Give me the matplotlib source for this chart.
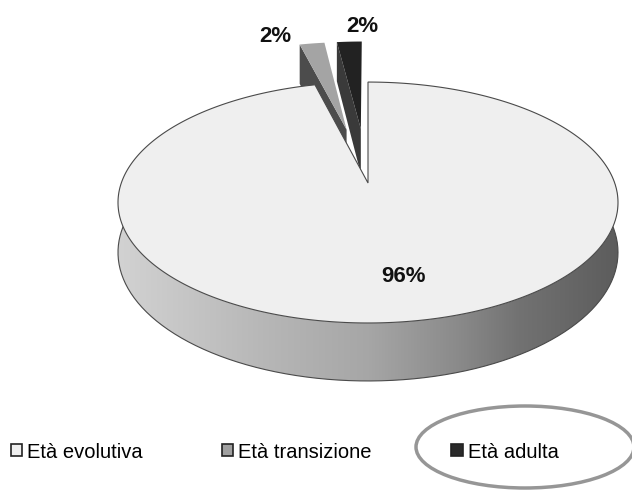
import numpy as np
import matplotlib
import matplotlib.pyplot as plt
from matplotlib.patches import Polygon, Patch, Ellipse
from matplotlib.colors import LinearSegmentedColormap

# data
categories = ["Età evolutiva", "Età transizione", "Età adulta"]
values = [96, 2, 2]
pct_labels = ["96%", "2%", "2%"]
explode = [0.0, 0.5, 0.5]
top_colors = ["#efefef", "#a4a4a4", "#222222"]
face_colors = ["#efefef", "#4c4c4c", "#3a3a3a"]
legend_colors = ["#efefef", "#a0a0a0", "#2a2a2a"]

# 3d look of the pie (pixel space)
CX, CY = 368, 183
RX, RY = 246.7, 117.3
PERSP = 0.162
DEPTH = 48.6


def proj(u, v, z=0.0):
    w = 1 + PERSP * np.asarray(v)
    return CX + RX * np.asarray(u) / w, CY - RY * np.asarray(v) / w + DEPTH * z / w


plt.rcParams['font.family'] = ['Liberation Sans', 'DejaVu Sans']
fig = plt.figure(figsize=(6.32, 4.9), dpi=100)
ax = fig.add_axes([0, 0, 1, 1])
ax.set_xlim(0, 632)
ax.set_ylim(490, 0)
ax.axis('off')

frac = np.array(values, dtype=float) / sum(values)
hi = 90 - 360 * np.concatenate([[0], np.cumsum(frac)[:-1]])
lo = hi - 360 * frac

# small exploded slices first (they sit behind the big one)
pulled = [i for i in range(len(values)) if explode[i] > 0]
for i in pulled[::-1]:
    m = np.radians((lo[i] + hi[i]) / 2)
    ou, ov = explode[i] * np.cos(m), explode[i] * np.sin(m)
    th = np.radians(np.linspace(lo[i], hi[i], 30))
    eu, ev = ou + np.cos(np.radians(hi[i])), ov + np.sin(np.radians(hi[i]))
    # radial side face on the left edge
    pts = [proj(ou, ov, 0), proj(eu, ev, 0), proj(eu, ev, 1), proj(ou, ov, 1)]
    ax.add_patch(Polygon(pts, closed=True, facecolor=face_colors[i],
                         edgecolor='none', zorder=1))
    xs, ys = proj(np.concatenate([[ou], ou + np.cos(th)]),
                  np.concatenate([[ov], ov + np.sin(th)]))
    ax.add_patch(Polygon(np.column_stack([xs, ys]), closed=True,
                         facecolor=top_colors[i], edgecolor='none', zorder=2))

# big slice: front side with gradient
th = np.radians(np.linspace(165, 375, 200))
tx, ty = proj(np.cos(th), np.sin(th), 0)
bx, by = proj(np.cos(th), np.sin(th), 1)
side = Polygon(np.column_stack([np.concatenate([tx, bx[::-1]]),
                                np.concatenate([ty, by[::-1]])]),
               closed=True, facecolor='none', edgecolor='none', zorder=3)
ax.add_patch(side)
side_cmap = LinearSegmentedColormap.from_list(
    'side', [(0, '#d2d2d2'), (0.3, '#b6b6b6'), (0.5, '#a6a6a6'),
             (0.68, '#8a8a8a'), (0.8, '#727272'), (1, '#5c5c5c')])
grad = np.linspace(0, 1, 256).reshape(1, -1)
im = ax.imshow(grad, cmap=side_cmap, extent=[118, 620, 400, 150],
               aspect='auto', zorder=3)
im.set_clip_path(side)
ax.plot(bx, by, color='#4a4a4a', lw=0.8, zorder=4)

# big slice top
th = np.radians(np.linspace(lo[0], hi[0], 400))
xs, ys = proj(np.concatenate([[0], np.cos(th)]), np.concatenate([[0], np.sin(th)]))
ax.add_patch(Polygon(np.column_stack([xs, ys]), closed=True,
                     facecolor=top_colors[0], edgecolor='#4a4a4a', lw=0.8, zorder=5))

# percentage labels
ax.text(403, 276, pct_labels[0], ha='center', va='center', fontsize=16,
        fontweight='bold', color='#111111', zorder=6)
ax.text(275, 36, pct_labels[1], ha='center', va='center', fontsize=16,
        fontweight='bold', color='#111111', zorder=6)
ax.text(362, 26, pct_labels[2], ha='center', va='center', fontsize=16,
        fontweight='bold', color='#111111', zorder=6)

# legend
handles = [Patch(facecolor=c, edgecolor='#222222', lw=1.2) for c in legend_colors]
ax.legend(handles, categories, ncol=3, loc='center left', frameon=False,
          bbox_to_anchor=(11 / 632, 1 - 452 / 490), fontsize=14.5,
          handlelength=0.55, handleheight=0.55, handletextpad=0.25,
          columnspacing=3.95, borderaxespad=0, borderpad=0)

ax.add_patch(Ellipse((525, 447), 218, 82, fill=False, edgecolor='#969696',
                     lw=2.5, zorder=7))

fig.savefig('out.png', dpi=100)
